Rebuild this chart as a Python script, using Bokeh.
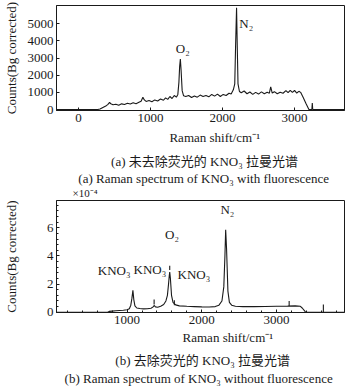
from bokeh.plotting import figure
from bokeh.models import Range1d, FixedTicker, ColumnDataSource
from bokeh.layouts import column
from bokeh.embed import file_html
from bokeh.resources import INLINE

# ---------------- data ----------------
# (a) spectrum with fluorescence
shift_a = [-300, 270, 300, 340, 380, 410, 433, 450, 480, 520, 560, 600, 640, 680, 720, 760,
           800, 840, 870, 895, 915, 940, 980, 1020, 1060, 1100, 1140, 1180, 1210, 1240, 1270,
           1300, 1330, 1360, 1380, 1395, 1405, 1415, 1425, 1440, 1460, 1490, 1530, 1570, 1610,
           1650, 1690, 1730, 1770, 1810, 1850, 1890, 1930, 1970, 2010, 2050, 2090, 2120, 2150,
           2170, 2182, 2195, 2205, 2215, 2235, 2260, 2300, 2340, 2380, 2420, 2460, 2500, 2540,
           2580, 2620, 2650, 2669, 2690, 2720, 2760, 2800, 2840, 2880, 2910, 2940, 2970, 3000,
           3030, 3060, 3084, 3120, 3160, 3199, 3240, 3246, 3252, 3690]
counts_a = [0, 0, 30, 120, 200, 300, 420, 330, 280, 310, 250, 330, 290, 360, 320, 390,
            340, 420, 480, 720, 560, 470, 520, 450, 560, 500, 610, 540, 680, 590, 760,
            640, 820, 720, 880, 1600, 2500, 2950, 2300, 1100, 800, 760, 820, 700, 790,
            720, 840, 760, 820, 740, 880, 780, 900, 760, 880, 820, 950, 900, 1150,
            1500, 3800, 5930, 3600, 1500, 1050, 980, 1080, 920, 1020, 880, 1000, 900, 1030,
            920, 1000, 950, 1320, 960, 1040, 920, 1010, 950, 1100, 980, 1120, 1000, 1110,
            960, 1060, 1000, 700, 330, 0, 0, 380, 0, 0]

# (b) spectrum without fluorescence (units of 1e-4)
shift_b = [55, 740, 760, 800, 850, 900, 950, 1000, 1030, 1050, 1065, 1078, 1090, 1105, 1130,
           1170, 1220, 1270, 1320, 1345, 1362, 1380, 1410, 1450, 1490, 1520, 1540, 1555, 1565,
           1571, 1580, 1595, 1615, 1650, 1700, 1800, 1900, 2000, 2100, 2180, 2230, 2270, 2295,
           2310, 2320, 2332, 2350, 2370, 2400, 2450, 2550, 2700, 2850, 3000, 3150, 3250, 3320,
           3345, 3388, 3905]
counts_b = [0, 0, 0.06, 0.08, 0.10, 0.12, 0.14, 0.17, 0.25, 0.5, 1.0, 1.55, 0.9, 0.45, 0.3,
            0.26, 0.24, 0.25, 0.28, 0.36, 0.48, 0.38, 0.35, 0.42, 0.55, 0.8, 1.2, 2.0, 2.6,
            2.85, 2.4, 1.2, 0.7, 0.52, 0.45, 0.42, 0.4, 0.38, 0.37, 0.4, 0.5, 0.8, 1.8,
            4.0, 5.86, 4.5, 1.5, 0.7, 0.5, 0.42, 0.4, 0.4, 0.41, 0.42, 0.43, 0.45, 0.42,
            0.3, 0.02, 0]
marker_shift = [1362, 1571, 1633, 3170, 3628]
marker_low = [0.55, 3.0, 0.5, 0.45, 0.0]
marker_high = [0.9, 3.3, 0.85, 0.8, 0.55]

labels_a = ["O₂", "N₂"]
labels_a_x = [1448, 2330]
labels_a_y = [3540, 5000]
labels_b = ["KNO₃", "KNO₃", "O₂", "KNO₃", "N₂"]
labels_b_x = [827, 1306, 1602, 1894, 2343]
labels_b_y = [2.96, 3.03, 5.53, 2.68, 7.30]

ticks_a_x = [0, 1000, 2000, 3000]
ticks_a_y = [0, 1000, 2000, 3000, 4000, 5000]
ticks_b_x = [1000, 2000, 3000]
ticks_b_y = [0, 2, 4, 6]

y_title = "Counts(Bg corrected)"
x_title = "Raman shift/cm⁻¹"
caption_a = ["(a) 未去除荧光的 KNO₃ 拉曼光谱", "(a) Raman spectrum of KNO₃ with fluorescence"]
caption_b = ["(b) 去除荧光的 KNO₃ 拉曼光谱", "(b) Raman spectrum of KNO₃ without fluorescence"]
scale_b = "×10⁻⁴"

SERIF = "'Liberation Serif', 'Noto Sans CJK SC'"
INK = "#1a1a1a"
W = 358


def style(p, xt, yt, minor, label_standoff):
    p.outline_line_color = INK
    p.outline_line_width = 1
    p.xgrid.visible = False
    p.ygrid.visible = False
    for ax in (p.xaxis[0], p.yaxis[0]):
        ax.axis_line_color = INK
        ax.major_tick_in = 3
        ax.major_tick_out = 0
        ax.minor_tick_in = 2 if minor else 0
        ax.minor_tick_out = 0
        ax.major_tick_line_color = INK
        ax.minor_tick_line_color = INK
        ax.major_label_text_font = SERIF
        ax.major_label_text_font_size = "13px"
        ax.major_label_text_color = INK
        ax.major_label_standoff = 3
    p.xaxis[0].ticker = FixedTicker(ticks=xt, minor_ticks=list(range(0, 4000, 200)) if minor else [])
    p.yaxis[0].ticker = FixedTicker(ticks=yt, minor_ticks=[i * 0.4 for i in range(0, 20)] if minor else [])
    p.yaxis[0].axis_label = y_title
    p.yaxis[0].axis_label_text_font = SERIF
    p.yaxis[0].axis_label_text_font_size = "13px"
    p.yaxis[0].axis_label_text_font_style = "normal"
    p.yaxis[0].axis_label_text_color = INK
    p.yaxis[0].axis_label_standoff = label_standoff


def caption_fig(height, texts, xs, ys, sizes, aligns, baselines):
    c = figure(width=W, height=height, output_backend="svg", toolbar_location=None,
               x_range=Range1d(0, W), y_range=Range1d(0, height),
               x_axis_type=None, y_axis_type=None, min_border=0)
    c.outline_line_color = None
    c.xgrid.visible = False
    c.ygrid.visible = False
    src = ColumnDataSource(dict(x=xs, y=ys, t=texts, s=sizes, a=aligns, b=baselines))
    c.text("x", "y", "t", source=src, text_font={"value": SERIF}, text_font_size="s",
           text_align="a", text_baseline="b", text_color=INK)
    return c


# ---------------- panel (a) ----------------
pa = figure(width=W, height=130, output_backend="svg", toolbar_location=None,
            x_range=Range1d(-304, 3693), y_range=Range1d(-58, 6067),
            min_border_left=55, min_border_right=14, min_border_top=5, min_border_bottom=20)
pa.line(shift_a, counts_a, line_color=INK, line_width=1.1)
style(pa, ticks_a_x, ticks_a_y, False, 6)
src_a = ColumnDataSource(dict(x=labels_a_x, y=labels_a_y, t=labels_a))
pa.text("x", "y", "t", source=src_a, text_font={"value": SERIF}, text_font_size="13px",
        text_align="center", text_baseline="middle", text_color=INK)

ca = caption_fig(69,
                 [x_title, caption_a[0], caption_a[1], scale_b],
                 [196.7, 184, 183, 20], [62, 38, 21.5, 0.5],
                 ["13px", "13px", "13px", "11px"],
                 ["center", "center", "center", "left"],
                 ["middle", "middle", "middle", "bottom"])

# ---------------- panel (b) ----------------
pb = figure(width=W, height=131, output_backend="svg", toolbar_location=None,
            x_range=Range1d(55, 3911), y_range=Range1d(-0.02, 7.94),
            min_border_left=55, min_border_right=8, min_border_top=1, min_border_bottom=18)
pb.line(shift_b, counts_b, line_color=INK, line_width=1.1)
pb.segment(x0=marker_shift, y0=marker_low, x1=marker_shift, y1=marker_high,
           line_color=INK, line_width=1.1)
style(pb, ticks_b_x, ticks_b_y, True, 25)
src_b = ColumnDataSource(dict(x=labels_b_x, y=labels_b_y, t=labels_b))
pb.text("x", "y", "t", source=src_b, text_font={"value": SERIF}, text_font_size="13px",
        text_align="center", text_baseline="middle", text_color=INK)

cb = caption_fig(61,
                 [x_title, caption_b[0], caption_b[1]],
                 [213, 181.7, 176.7], [54.5, 31, 13],
                 ["13px", "13px", "13px"],
                 ["center", "center", "center"],
                 ["middle", "middle", "middle"])

layout = column(pa, ca, pb, cb, spacing=0)
open("out.html", "w").write(file_html(layout, INLINE))
